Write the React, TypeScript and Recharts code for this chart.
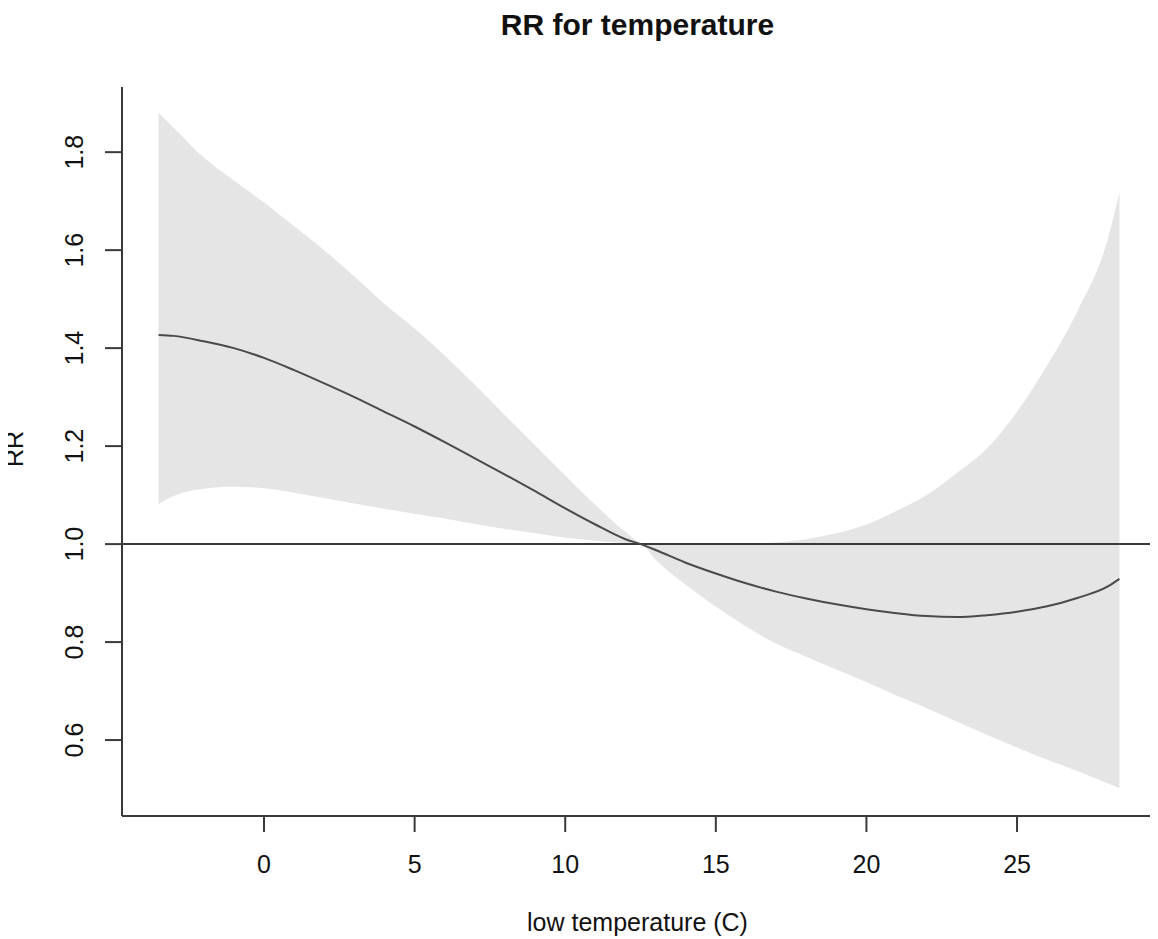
import {
  ComposedChart,
  Area,
  Line,
  XAxis,
  YAxis,
  ReferenceLine,
} from "recharts";

// temperature grid (C)
const temps = [
  -3.5, -3, -2, -1, 0, 1, 2, 3, 4, 5, 6, 7, 8, 9, 10, 11, 12, 12.5, 13, 14,
  15, 16, 17, 18, 19, 20, 21, 22, 23, 24, 25, 26, 27, 28, 28.4,
];

// relative risk estimate
const rrEst = [
  1.427, 1.425, 1.414, 1.4, 1.38, 1.355, 1.328, 1.3, 1.27, 1.24, 1.208, 1.175,
  1.142, 1.108, 1.073, 1.04, 1.01, 1.0, 0.988, 0.962, 0.94, 0.92, 0.903, 0.889,
  0.877, 0.867, 0.859, 0.853, 0.851, 0.855, 0.862, 0.873, 0.89, 0.913, 0.929,
];

// upper 95% bound
const rrHigh = [
  1.88, 1.85, 1.789, 1.742, 1.697, 1.649, 1.6, 1.546, 1.49, 1.44, 1.385, 1.325,
  1.263, 1.202, 1.14, 1.08, 1.025, 1.003, 1.0, 1.0, 1.0, 1.001, 1.004, 1.01,
  1.022, 1.04, 1.068, 1.1, 1.145, 1.195, 1.27, 1.365, 1.475, 1.62, 1.718,
];

// lower 95% bound
const rrLow = [
  1.082, 1.098, 1.113, 1.117, 1.114, 1.105, 1.094, 1.083, 1.072, 1.062, 1.052,
  1.041, 1.031, 1.022, 1.013, 1.007, 1.002, 1.0, 0.968, 0.917, 0.872, 0.832,
  0.797, 0.77, 0.744, 0.718, 0.691, 0.665, 0.638, 0.611, 0.585, 0.56, 0.537,
  0.512, 0.502,
];

const xTicks = [0, 5, 10, 15, 20, 25];
const yTicks = [0.6, 0.8, 1.0, 1.2, 1.4, 1.6, 1.8];

const FONT = "'Liberation Sans', Arial, sans-serif";
const AXIS = "#3a3a3a";

const data = temps.map((t, i) => ({
  t,
  est: rrEst[i],
  band: [rrLow[i], rrHigh[i]],
}));

function XTick(props: any) {
  const { x, payload } = props;
  return (
    <text
      x={x}
      y={856}
      textAnchor="middle"
      dominantBaseline="central"
      fontSize={25}
      fontFamily={FONT}
      fill="#111"
    >
      {payload.value}
    </text>
  );
}

function YTick(props: any) {
  const { y, payload } = props;
  return (
    <text
      x={66}
      y={y}
      textAnchor="middle"
      dominantBaseline="central"
      fontSize={25}
      fontFamily={FONT}
      fill="#111"
      transform={`rotate(-90 66 ${y})`}
    >
      {Number(payload.value).toFixed(1)}
    </text>
  );
}

function YLabel() {
  return (
    <text
      x={6}
      y={441}
      textAnchor="middle"
      dominantBaseline="central"
      fontSize={25}
      fontFamily={FONT}
      fill="#111"
      transform="rotate(-90 6 441)"
    >
      RR
    </text>
  );
}

function XLabel() {
  return (
    <text
      x={629.5}
      y={914}
      textAnchor="middle"
      dominantBaseline="central"
      fontSize={25}
      fontFamily={FONT}
      fill="#111"
    >
      low temperature (C)
    </text>
  );
}

export default function App() {
  return (
    <div style={{ position: "relative", width: 1150, height: 931, fontFamily: FONT }}>
      <style>{`.recharts-surface{overflow:visible}`}</style>
      <div
        style={{
          position: "absolute",
          left: 329.5,
          width: 600,
          top: 0,
          textAlign: "center",
          fontSize: 30,
          fontWeight: "bold",
          color: "#111",
        }}
      >
        RR for temperature
      </div>
      <ComposedChart
        width={1150}
        height={931}
        data={data}
        margin={{ top: 79, right: 0, left: 0, bottom: 0 }}
      >
        <XAxis
          type="number"
          dataKey="t"
          domain={[-4.715, 29.68]}
          allowDataOverflow
          ticks={xTicks}
          height={123}
          tickSize={16}
          stroke={AXIS}
          strokeWidth={2}
          tick={<XTick />}
          label={<XLabel />}
        />
        <YAxis
          type="number"
          domain={[0.445, 1.933]}
          allowDataOverflow
          ticks={yTicks}
          width={114}
          tickSize={17}
          stroke={AXIS}
          strokeWidth={2}
          tick={<YTick />}
          label={<YLabel />}
        />
        <Area
          type="monotone"
          dataKey="band"
          fill="#e5e5e5"
          fillOpacity={1}
          stroke="none"
          isAnimationActive={false}
        />
        <ReferenceLine y={1} stroke={AXIS} strokeWidth={2} />
        <Line
          type="monotone"
          dataKey="est"
          stroke="#4a4a4a"
          strokeWidth={2}
          dot={false}
          isAnimationActive={false}
        />
      </ComposedChart>
    </div>
  );
}
